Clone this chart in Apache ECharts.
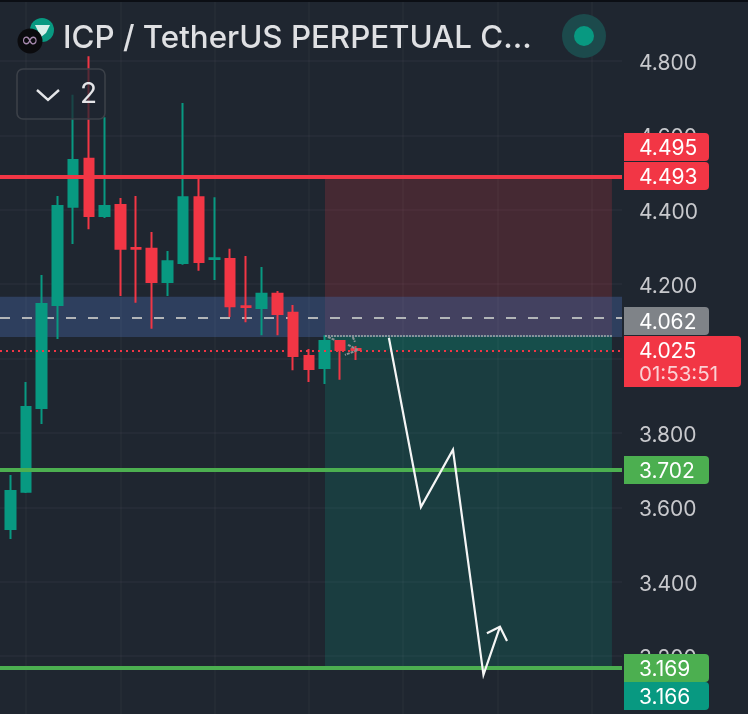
<!DOCTYPE html>
<html>
<head>
<meta charset="utf-8">
<style>html,body{margin:0;padding:0;background:#1f2630}#c{width:748px;height:714px}</style>
<script src="https://cdn.jsdelivr.net/npm/echarts@6/dist/echarts.min.js"></script>
</head>
<body>
<div id="c"></div>
<script>
// candle position (bar number) and prices
const candleIndex = [0,1,2,3,4,5,6,7,8,9,10,11,12,13,14,15,16,17,18,19,20,21,22];
const opens  = [3.542,3.642,3.867,4.144,4.408,4.537,4.383,4.413,4.297,4.295,4.206,4.257,4.434,4.268,4.268,4.141,4.136,4.174,4.123,4.007,3.975,4.047,4.026];
const closes = [3.644,3.870,4.147,4.410,4.534,4.383,4.410,4.295,4.295,4.206,4.262,4.434,4.260,4.270,4.141,4.139,4.174,4.120,4.007,3.972,4.047,4.023,4.023];
const lows   = [3.515,3.639,3.824,4.053,4.308,4.348,4.378,4.168,4.150,4.080,4.168,4.252,4.236,4.211,4.112,4.098,4.063,4.063,3.969,3.937,3.932,3.943,3.996];
const highs  = [3.687,3.937,4.225,4.437,4.709,4.813,4.649,4.432,4.437,4.340,4.289,4.687,4.488,4.434,4.295,4.276,4.246,4.182,4.144,4.026,4.063,4.050,4.034];

const yTicks = [3.0,3.2,3.4,3.6,3.8,4.0,4.2,4.4,4.6,4.8,5.0];
const verticalGrid = [1,7,13,19,25,31,37];

const stopPrice = 4.493;
const entryPrice = 4.062;
const currentPrice = 4.022;
const targetOne = 3.702;
const targetTwo = 3.169;
const dashedPrice = 4.113;
const zoneTop = 4.166;
const zoneBottom = 4.058;
const positionStart = 20.03;
const positionEnd = 38.3;

const projectionPath = [[24.1,4.056],[26.14,3.601],[28.18,3.755],[30.12,3.150],[31.17,3.279]];
const projectionHeadA = [[30.34,3.262],[31.17,3.279],[31.62,3.241]];
const ghostA = [[20.22,4.058],[20.67,4.050]];
const ghostB = [[21.5,4.037],[22.13,4.023],[21.3,4.010]];
const ghostC = [[21.8,4.058],[21.94,4.045]];

const titleText = 'ICP / TetherUS PERPETUAL C...';
const legendCount = '2';
const tagLabels = ['4.495','4.493','4.062','4.025','3.702','3.169','3.166'];
const countdown = '01:53:51';

const RED='#f23645', TEAL='#089981', LIME='#4caf50', GREY='#7f8388';
const FONT='Inter, "Noto Sans", sans-serif';

const candleData = candleIndex.map((x,i)=>[x,opens[i],closes[i],lows[i],highs[i]]);
const whiteLine = (data,name)=>({type:'line',name,data,symbol:'none',silent:true,z:6,animation:false,
  lineStyle:{color:'#f5f5f5',width:2.2,join:'miter'}});
const ghostLine = (data,name)=>({type:'line',name,data,symbol:'none',silent:true,z:6,animation:false,
  lineStyle:{color:'#8b9094',width:2,type:[3,1]}});

// tag boxes [y, height, width, fill]
const tagLayout = [[133,28,85,RED],[162,28,85,RED],[307,28,85,GREY],[336,51,117,RED],[456,28,85,LIME],[654,28,85,LIME],[682,28,85,TEAL]];
const tagGraphics = [];
tagLabels.forEach((t,i)=>{
  const [y,h,w,c]=tagLayout[i];
  tagGraphics.push({type:'rect',z:50,shape:{x:624,y,width:w,height:h,r:[0,4,4,0]},style:{fill:c}});
  tagGraphics.push({type:'text',z:51,style:{x:639,y:y+16,text:t,fill:'#fff',font:'21px '+FONT,verticalAlign:'middle',textAlign:'left'}});
});
tagGraphics.push({type:'text',z:51,style:{x:639,y:375,text:countdown,fill:'#fbd0d4',font:'20.5px '+FONT,verticalAlign:'middle',textAlign:'left'}});

const chart = echarts.init(document.getElementById('c'),null,{renderer:'canvas'});
chart.setOption({
  animation:false,
  backgroundColor:'#1f2630',
  grid:{left:0,right:126,top:-13.4,bottom:-16.6,containLabel:false,outerBoundsMode:'none'},
  xAxis:{type:'value',min:-0.656,max:38.94,show:false,splitLine:{show:false}},
  yAxis:{type:'value',min:yTicks[0],max:yTicks[yTicks.length-1],interval:0.2,position:'right',
    axisLine:{show:false},axisTick:{show:false},
    splitLine:{show:true,lineStyle:{color:'#282e38',width:1.5}},
    axisLabel:{margin:17,color:'#c8c9cd',fontFamily:FONT,fontSize:21,verticalAlign:'top',lineHeight:5,formatter:v=>v.toFixed(3)}},
  title:{text:titleText,left:58,top:18,textStyle:{color:'#dfe0e3',fontFamily:FONT,fontSize:31.3,fontWeight:500}},
  series:[
    {type:'line',name:'zones',data:[],z:1,silent:true,
      markLine:{z:1,silent:true,symbol:'none',label:{show:false},animation:false,
        data:[
          ...verticalGrid.map(v=>({xAxis:v,lineStyle:{color:'rgba(255,255,255,0.035)',width:1.5,type:'solid'}})),
          {yAxis:dashedPrice,lineStyle:{color:'#b2b5b8',width:2,type:[10,12]}}
        ]},
      markArea:{z:1,silent:true,animation:false,label:{show:false},
        data:[
          [{xAxis:positionStart,yAxis:stopPrice,itemStyle:{color:'rgba(242,54,69,0.18)'}},{xAxis:positionEnd,yAxis:entryPrice}],
          [{xAxis:positionStart,yAxis:entryPrice,itemStyle:{color:'rgba(8,153,129,0.2)'}},{xAxis:positionEnd,yAxis:targetTwo}],
          [{xAxis:positionStart,yAxis:entryPrice,itemStyle:{color:'rgba(8,153,129,0.18)'}},{xAxis:positionEnd,yAxis:currentPrice}],
          [{yAxis:zoneTop,itemStyle:{color:'rgba(64,96,150,0.45)'}},{yAxis:zoneBottom}]
        ]}
    },
    {type:'candlestick',name:'ICP',data:candleData,z:3,barWidth:10,silent:true,
      encode:{x:0,y:[1,2,3,4]},
      itemStyle:{color:TEAL,color0:RED,borderColor:TEAL,borderColor0:RED,borderWidth:2,borderColorDoji:RED}},
    {type:'line',name:'levels',data:[],z:5,silent:true,
      markLine:{z:5,silent:true,symbol:'none',label:{show:false},animation:false,
        data:[
          {yAxis:stopPrice,lineStyle:{color:RED,width:4,type:'solid'}},
          {yAxis:targetOne,lineStyle:{color:LIME,width:4,type:'solid'}},
          {yAxis:targetTwo,lineStyle:{color:LIME,width:4,type:'solid'}},
          {yAxis:currentPrice,lineStyle:{color:RED,width:2,type:[2,4]}},
          [{xAxis:positionStart,yAxis:entryPrice,lineStyle:{color:'#a9abad',width:1.6,type:[2,1]}},{xAxis:positionEnd,yAxis:entryPrice}]
        ]}
    },
    whiteLine(projectionPath,'projection'),
    whiteLine(projectionHeadA,'projection head'),
    ghostLine(ghostA,'ghost a'),
    ghostLine(ghostB,'ghost b'),
    ghostLine(ghostC,'ghost c')
  ],
  graphic:[
    {type:'rect',z:40,shape:{x:0,y:0,width:748,height:2},style:{fill:'#0b0e14'}},
    // legend icons
    {type:'circle',z:40,shape:{cx:42,cy:30,r:12},style:{fill:TEAL}},
    {type:'polygon',z:41,shape:{points:[[35,25],[50,25],[46,33],[41,37]]},style:{fill:'#d5efe9'}},
    {type:'circle',z:42,shape:{cx:30,cy:41,r:12.5},style:{fill:'#0b0b0e'}},
    {type:'text',z:43,style:{x:30,y:41,text:'∞',fill:'#a98bb0',font:'22px "DejaVu Sans"',textAlign:'center',verticalAlign:'middle'}},
    // collapsed legend box
    {type:'rect',z:40,shape:{x:17,y:69,width:88,height:50,r:6},style:{fill:'rgba(31,38,48,0.72)',stroke:'#3b4048',lineWidth:1.6}},
    {type:'polyline',z:41,shape:{points:[[37,90],[48,100],[59,90]]},style:{stroke:'#e4e5e8',lineWidth:2.4,fill:'none'}},
    {type:'text',z:41,style:{x:80,y:95,text:legendCount,fill:'#e4e5e8',font:'28px '+FONT,textAlign:'left',verticalAlign:'middle'}},
    // market status dot
    {type:'circle',z:40,shape:{cx:584,cy:36,r:22},style:{fill:'#1c4a4c'}},
    {type:'circle',z:41,shape:{cx:584,cy:36,r:10},style:{fill:TEAL}},
    ...tagGraphics
  ]
});
</script>
</body>
</html>
